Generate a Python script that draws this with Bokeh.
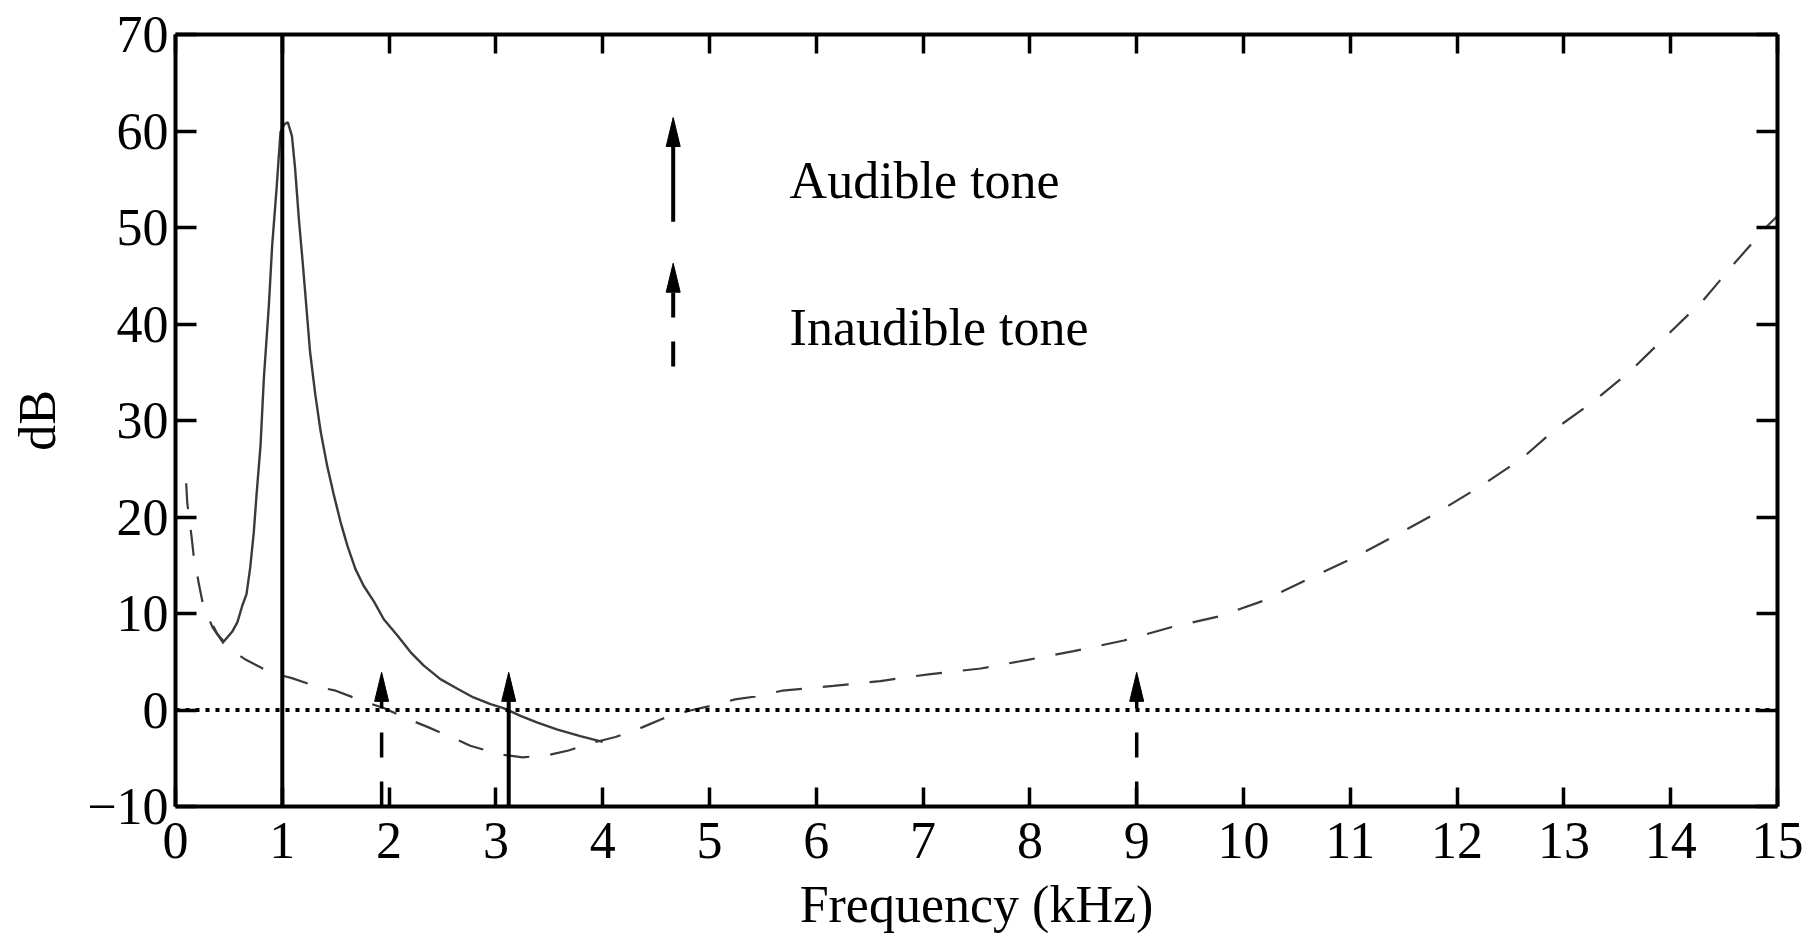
from bokeh.plotting import figure
from bokeh.models import LinearAxis, FixedTicker, Range1d, ColumnDataSource, Label, Span
from bokeh.embed import file_html
from bokeh.resources import INLINE

# ---------------- data ----------------
x_ticks = list(range(0, 16))
y_ticks = list(range(-10, 71, 10))

# threshold of hearing (dashed)
threshold_khz = [0.10, 0.11, 0.15, 0.17, 0.22, 0.26, 0.35, 0.45, 0.55, 0.66, 0.80, 0.89,
                 1.09, 1.33, 1.50, 1.76, 1.95, 2.17, 2.37, 2.60, 2.76, 3.04, 3.25, 3.48,
                 3.68, 3.90, 4.12, 4.37, 4.56, 4.80, 5.00, 5.24, 5.43, 5.68, 6.16, 6.60,
                 7.05, 7.54, 7.98, 8.41, 8.88, 9.33, 9.77, 10.18, 10.61, 11.00, 11.41, 11.82,
                 12.22, 12.60, 12.94, 13.28, 13.64, 14.00, 14.30, 14.59, 14.90, 15.00]
threshold_db = [23.5, 21.5, 18.0, 16.0, 13.0, 10.8, 8.5, 6.9, 6.0, 5.2, 4.4, 3.9,
                3.3, 2.4, 2.0, 0.9, 0.2, -0.9, -1.8, -2.9, -3.7, -4.6, -4.9, -4.7,
                -4.2, -3.4, -2.8, -1.8, -0.9, -0.1, 0.4, 1.1, 1.4, 2.0, 2.5, 3.0,
                3.7, 4.3, 5.2, 6.1, 7.2, 8.6, 9.7, 11.3, 13.6, 15.6, 18.0, 20.5,
                23.2, 26.0, 29.3, 32.0, 35.3, 39.2, 42.4, 46.2, 50.1, 51.2]

# masking curve of the 1 kHz tone (solid)
masking_khz = [0.353, 0.39, 0.452, 0.53, 0.58, 0.625, 0.665, 0.70, 0.733, 0.758, 0.796, 0.827,
               0.874, 0.905, 0.946, 0.983, 1.02, 1.052, 1.09, 1.12, 1.155, 1.19, 1.22, 1.26,
               1.31, 1.36, 1.42, 1.48, 1.545, 1.61, 1.685, 1.76, 1.86, 1.95, 2.08, 2.20,
               2.325, 2.48, 2.64, 2.79, 2.95, 3.07, 3.23, 3.39, 3.57, 3.79, 4.00]
masking_db = [8.7, 7.9, 7.1, 8.1, 9.1, 10.8, 12.0, 14.8, 18.4, 22.2, 27.4, 34.3,
              41.9, 48.1, 54.0, 59.9, 60.7, 60.9, 59.5, 56.1, 50.9, 46.5, 42.5, 37.1,
              32.6, 28.8, 25.3, 22.4, 19.5, 17.0, 14.6, 12.9, 11.2, 9.4, 7.7, 6.0,
              4.6, 3.2, 2.2, 1.3, 0.6, 0.2, -0.6, -1.3, -2.0, -2.7, -3.3]

# tones (arrows)
tone_khz = [1.0, 1.93, 3.12, 9.0]
tone_db = [80.0, 3.9, 3.9, 3.9]
tone_audible = [True, False, True, False]

legend_labels = ["Audible tone", "Inaudible tone"]

# ---------------- layout / style ----------------
X0, X1, Y0, Y1 = 0, 15, -10, 70
FRAME_W, FRAME_H = 1602, 772
LEFT, RIGHT, TOP = 175, 27, 34
W, H = LEFT + FRAME_W + RIGHT, 941
BOTTOM = H - TOP - FRAME_H
DX = (X1 - X0) / FRAME_W   # data units per pixel
DY = (Y1 - Y0) / FRAME_H
HEAD_W, HEAD_L = 14, 29    # arrow head in px
FONT = "Liberation Serif"
CURVE_COLOR = "#3a3a3a"

p = figure(width=W, height=H, x_range=Range1d(X0, X1), y_range=Range1d(Y0, Y1),
           output_backend="svg", toolbar_location=None,
           min_border_left=LEFT, min_border_right=RIGHT,
           min_border_top=TOP, min_border_bottom=BOTTOM,
           x_axis_label="Frequency (kHz)", y_axis_label="dB")
p.xgrid.visible = False
p.ygrid.visible = False
p.outline_line_color = None
p.background_fill_color = "white"

p.add_layout(LinearAxis(), "above")
p.add_layout(LinearAxis(), "right")


def style_axis(ax, ticks, tick_len):
    ax.ticker = FixedTicker(ticks=ticks)
    ax.axis_line_width = 4
    ax.axis_line_color = "black"
    ax.major_tick_in = tick_len
    ax.major_tick_out = 0
    ax.major_tick_line_width = 3.5
    ax.major_tick_line_color = "black"
    ax.minor_tick_line_color = None
    ax.major_label_text_font = FONT
    ax.major_label_text_font_size = "52px"
    ax.major_label_text_color = "black"
    ax.axis_label_text_font = FONT
    ax.axis_label_text_font_style = "normal"
    ax.axis_label_text_color = "black"


for ax in p.below + p.above:
    style_axis(ax, x_ticks, 19)
for ax in p.left + p.right:
    style_axis(ax, y_ticks, 21)

bx = p.below[0]
bx.major_label_standoff = 16
bx.axis_label_text_font_size = "52px"
bx.axis_label_standoff = 15
ly = p.left[0]
ly.major_label_standoff = 7
ly.axis_label_text_font_size = "52px"
ly.axis_label_standoff = 18
ly.major_label_overrides = {-10: "\u221210"}
for ax in p.above + p.right:
    ax.major_label_text_font_size = "1px"
    ax.major_label_text_color = None
    ax.major_label_standoff = 0

# zero level (dotted)
p.add_layout(Span(location=0, dimension="width", line_color="black",
                  line_width=4, line_dash="4 6"))

# threshold of hearing
p.line(threshold_khz, threshold_db, line_color=CURVE_COLOR, line_width=2.2,
       line_dash="26 21")
# masking curve
p.line(masking_khz, masking_db, line_color=CURVE_COLOR, line_width=2.4)


def arrows(xs, tips, bases, dashed, width):
    shaft_top = [t - HEAD_L * DY * 0.9 for t in tips]
    src = ColumnDataSource(dict(x=xs, y0=bases, y1=shaft_top))
    p.segment(x0="x", y0="y0", x1="x", y1="y1", source=src, line_color="black",
              line_width=width, line_dash="25 24" if dashed else "solid")
    hx = [[x - HEAD_W * DX / 2, x, x + HEAD_W * DX / 2] for x in xs]
    hy = [[t - HEAD_L * DY, t, t - HEAD_L * DY] for t in tips]
    p.patches(hx, hy, fill_color="black", line_color="black", line_width=1)


aud_x = [f for f, a in zip(tone_khz, tone_audible) if a]
aud_y = [d for d, a in zip(tone_db, tone_audible) if a]
ina_x = [f for f, a in zip(tone_khz, tone_audible) if not a]
ina_y = [d for d, a in zip(tone_db, tone_audible) if not a]
arrows(aud_x, aud_y, [Y0] * len(aud_x), False, 4)
arrows(ina_x, ina_y, [Y0] * len(ina_x), True, 3.5)

# legend (custom, arrows + text)
LEG_X = 4.66
LEG_TXT_X = 5.75
arrows([LEG_X], [61.4], [50.6], False, 4)
arrows([LEG_X], [46.3], [35.6], True, 4)
for txt, yb in zip(legend_labels, [54.9, 39.6]):
    p.add_layout(Label(x=LEG_TXT_X, y=yb, text=txt, text_font=FONT,
                       text_font_size="52px", text_color="black",
                       text_baseline="alphabetic", text_align="left"))

open("out.html", "w").write(file_html(p, INLINE))
